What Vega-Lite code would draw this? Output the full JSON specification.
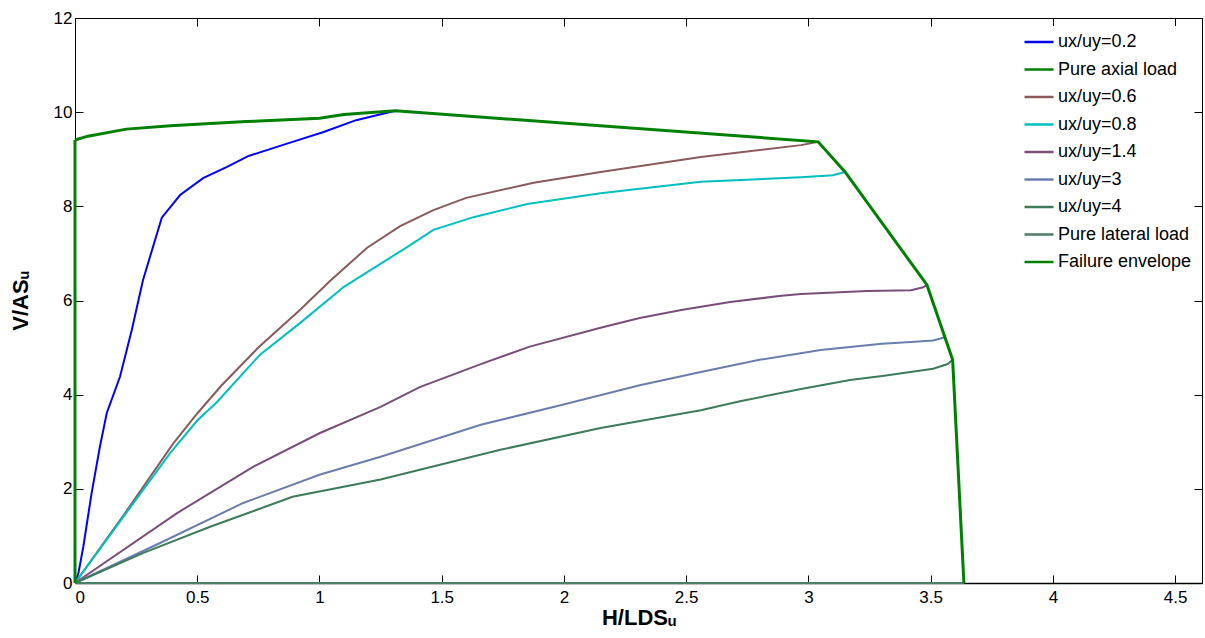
{
  "$schema": "https://vega.github.io/schema/vega-lite/v6.json",
  "width": 1127,
  "height": 565,
  "autosize": {"type": "none"},
  "padding": {"left": 75, "top": 18, "right": 3, "bottom": 55},
  "background": "white",
  "config": {
    "font": "Liberation Sans",
    "view": {"stroke": "black", "strokeWidth": 1},
    "axis": {"grid": false, "domainColor": "black", "tickColor": "black", "labelColor": "black", "titleColor": "black", "labelFont": "Liberation Sans", "titleFont": "Liberation Sans"}
  },
  "datasets": {
    "curves": [
      {"s": "ux/uy=0.2", "i": 0, "x": 0, "y": 0},
      {"s": "ux/uy=0.2", "i": 1, "x": 0.014, "y": 0.21},
      {"s": "ux/uy=0.2", "i": 2, "x": 0.034, "y": 0.77},
      {"s": "ux/uy=0.2", "i": 3, "x": 0.068, "y": 1.91},
      {"s": "ux/uy=0.2", "i": 4, "x": 0.102, "y": 2.9},
      {"s": "ux/uy=0.2", "i": 5, "x": 0.13, "y": 3.61},
      {"s": "ux/uy=0.2", "i": 6, "x": 0.184, "y": 4.38},
      {"s": "ux/uy=0.2", "i": 7, "x": 0.232, "y": 5.37},
      {"s": "ux/uy=0.2", "i": 8, "x": 0.278, "y": 6.43},
      {"s": "ux/uy=0.2", "i": 9, "x": 0.355, "y": 7.76},
      {"s": "ux/uy=0.2", "i": 10, "x": 0.43, "y": 8.24},
      {"s": "ux/uy=0.2", "i": 11, "x": 0.524, "y": 8.6},
      {"s": "ux/uy=0.2", "i": 12, "x": 0.622, "y": 8.84},
      {"s": "ux/uy=0.2", "i": 13, "x": 0.71, "y": 9.07},
      {"s": "ux/uy=0.2", "i": 14, "x": 0.89, "y": 9.37},
      {"s": "ux/uy=0.2", "i": 15, "x": 1.017, "y": 9.58},
      {"s": "ux/uy=0.2", "i": 16, "x": 1.15, "y": 9.83},
      {"s": "ux/uy=0.2", "i": 17, "x": 1.31, "y": 10.03},

      {"s": "ux/uy=0.6", "i": 0, "x": 0, "y": 0},
      {"s": "ux/uy=0.6", "i": 1, "x": 0.2, "y": 1.45},
      {"s": "ux/uy=0.6", "i": 2, "x": 0.4, "y": 2.95},
      {"s": "ux/uy=0.6", "i": 3, "x": 0.5, "y": 3.6},
      {"s": "ux/uy=0.6", "i": 4, "x": 0.6, "y": 4.2},
      {"s": "ux/uy=0.6", "i": 5, "x": 0.75, "y": 5.0},
      {"s": "ux/uy=0.6", "i": 6, "x": 0.92, "y": 5.8},
      {"s": "ux/uy=0.6", "i": 7, "x": 1.044, "y": 6.42},
      {"s": "ux/uy=0.6", "i": 8, "x": 1.195, "y": 7.12},
      {"s": "ux/uy=0.6", "i": 9, "x": 1.33, "y": 7.58},
      {"s": "ux/uy=0.6", "i": 10, "x": 1.466, "y": 7.92},
      {"s": "ux/uy=0.6", "i": 11, "x": 1.6, "y": 8.18},
      {"s": "ux/uy=0.6", "i": 12, "x": 1.876, "y": 8.5},
      {"s": "ux/uy=0.6", "i": 13, "x": 2.15, "y": 8.73},
      {"s": "ux/uy=0.6", "i": 14, "x": 2.56, "y": 9.05},
      {"s": "ux/uy=0.6", "i": 15, "x": 2.97, "y": 9.3},
      {"s": "ux/uy=0.6", "i": 16, "x": 3.04, "y": 9.37},

      {"s": "ux/uy=0.8", "i": 0, "x": 0, "y": 0},
      {"s": "ux/uy=0.8", "i": 1, "x": 0.2, "y": 1.42},
      {"s": "ux/uy=0.8", "i": 2, "x": 0.389, "y": 2.76},
      {"s": "ux/uy=0.8", "i": 3, "x": 0.5, "y": 3.45},
      {"s": "ux/uy=0.8", "i": 4, "x": 0.58, "y": 3.84},
      {"s": "ux/uy=0.8", "i": 5, "x": 0.757, "y": 4.85},
      {"s": "ux/uy=0.8", "i": 6, "x": 0.92, "y": 5.52},
      {"s": "ux/uy=0.8", "i": 7, "x": 1.1, "y": 6.29},
      {"s": "ux/uy=0.8", "i": 8, "x": 1.36, "y": 7.14},
      {"s": "ux/uy=0.8", "i": 9, "x": 1.466, "y": 7.5},
      {"s": "ux/uy=0.8", "i": 10, "x": 1.63, "y": 7.77},
      {"s": "ux/uy=0.8", "i": 11, "x": 1.85, "y": 8.05},
      {"s": "ux/uy=0.8", "i": 12, "x": 2.15, "y": 8.28},
      {"s": "ux/uy=0.8", "i": 13, "x": 2.56, "y": 8.52},
      {"s": "ux/uy=0.8", "i": 14, "x": 2.97, "y": 8.62},
      {"s": "ux/uy=0.8", "i": 15, "x": 3.1, "y": 8.66},
      {"s": "ux/uy=0.8", "i": 16, "x": 3.15, "y": 8.73},

      {"s": "ux/uy=1.4", "i": 0, "x": 0, "y": 0},
      {"s": "ux/uy=1.4", "i": 1, "x": 0.416, "y": 1.48},
      {"s": "ux/uy=1.4", "i": 2, "x": 0.73, "y": 2.47},
      {"s": "ux/uy=1.4", "i": 3, "x": 1.0, "y": 3.18},
      {"s": "ux/uy=1.4", "i": 4, "x": 1.25, "y": 3.74},
      {"s": "ux/uy=1.4", "i": 5, "x": 1.41, "y": 4.16},
      {"s": "ux/uy=1.4", "i": 6, "x": 1.66, "y": 4.65},
      {"s": "ux/uy=1.4", "i": 7, "x": 1.86, "y": 5.02},
      {"s": "ux/uy=1.4", "i": 8, "x": 2.15, "y": 5.42},
      {"s": "ux/uy=1.4", "i": 9, "x": 2.31, "y": 5.63},
      {"s": "ux/uy=1.4", "i": 10, "x": 2.48, "y": 5.8},
      {"s": "ux/uy=1.4", "i": 11, "x": 2.68, "y": 5.97},
      {"s": "ux/uy=1.4", "i": 12, "x": 2.89, "y": 6.1},
      {"s": "ux/uy=1.4", "i": 13, "x": 2.97, "y": 6.14},
      {"s": "ux/uy=1.4", "i": 14, "x": 3.24, "y": 6.2},
      {"s": "ux/uy=1.4", "i": 15, "x": 3.42, "y": 6.22},
      {"s": "ux/uy=1.4", "i": 16, "x": 3.47, "y": 6.28},
      {"s": "ux/uy=1.4", "i": 17, "x": 3.485, "y": 6.33},

      {"s": "ux/uy=3", "i": 0, "x": 0, "y": 0},
      {"s": "ux/uy=3", "i": 1, "x": 0.348, "y": 0.85},
      {"s": "ux/uy=3", "i": 2, "x": 0.688, "y": 1.7},
      {"s": "ux/uy=3", "i": 3, "x": 1.0, "y": 2.3},
      {"s": "ux/uy=3", "i": 4, "x": 1.25, "y": 2.68},
      {"s": "ux/uy=3", "i": 5, "x": 1.66, "y": 3.36},
      {"s": "ux/uy=3", "i": 6, "x": 1.99, "y": 3.78},
      {"s": "ux/uy=3", "i": 7, "x": 2.31, "y": 4.2},
      {"s": "ux/uy=3", "i": 8, "x": 2.56, "y": 4.48},
      {"s": "ux/uy=3", "i": 9, "x": 2.8, "y": 4.74},
      {"s": "ux/uy=3", "i": 10, "x": 3.05, "y": 4.95},
      {"s": "ux/uy=3", "i": 11, "x": 3.3, "y": 5.08},
      {"s": "ux/uy=3", "i": 12, "x": 3.42, "y": 5.12},
      {"s": "ux/uy=3", "i": 13, "x": 3.51, "y": 5.15},
      {"s": "ux/uy=3", "i": 14, "x": 3.56, "y": 5.22},

      {"s": "ux/uy=4", "i": 0, "x": 0, "y": 0},
      {"s": "ux/uy=4", "i": 1, "x": 0.28, "y": 0.64},
      {"s": "ux/uy=4", "i": 2, "x": 0.55, "y": 1.19},
      {"s": "ux/uy=4", "i": 3, "x": 0.89, "y": 1.83},
      {"s": "ux/uy=4", "i": 4, "x": 1.25, "y": 2.2},
      {"s": "ux/uy=4", "i": 5, "x": 1.74, "y": 2.83},
      {"s": "ux/uy=4", "i": 6, "x": 2.15, "y": 3.29},
      {"s": "ux/uy=4", "i": 7, "x": 2.56, "y": 3.67},
      {"s": "ux/uy=4", "i": 8, "x": 2.72, "y": 3.86},
      {"s": "ux/uy=4", "i": 9, "x": 2.97, "y": 4.12},
      {"s": "ux/uy=4", "i": 10, "x": 3.17, "y": 4.31},
      {"s": "ux/uy=4", "i": 11, "x": 3.31, "y": 4.4},
      {"s": "ux/uy=4", "i": 12, "x": 3.51, "y": 4.55},
      {"s": "ux/uy=4", "i": 13, "x": 3.57, "y": 4.65},
      {"s": "ux/uy=4", "i": 14, "x": 3.59, "y": 4.74},

      {"s": "Pure lateral load", "i": 0, "x": 0, "y": 0},
      {"s": "Pure lateral load", "i": 1, "x": 3.636, "y": 0}
    ],
    "envelope": [
      {"s": "Pure axial load", "i": 0, "x": 0, "y": 0},
      {"s": "Pure axial load", "i": 1, "x": 0, "y": 9.41},

      {"s": "Failure envelope", "i": 0, "x": 0, "y": 9.41},
      {"s": "Failure envelope", "i": 1, "x": 0.053, "y": 9.49},
      {"s": "Failure envelope", "i": 2, "x": 0.21, "y": 9.64},
      {"s": "Failure envelope", "i": 3, "x": 0.39, "y": 9.71},
      {"s": "Failure envelope", "i": 4, "x": 0.7, "y": 9.8},
      {"s": "Failure envelope", "i": 5, "x": 1.0, "y": 9.87},
      {"s": "Failure envelope", "i": 6, "x": 1.1, "y": 9.95},
      {"s": "Failure envelope", "i": 7, "x": 1.31, "y": 10.03},
      {"s": "Failure envelope", "i": 8, "x": 3.04, "y": 9.37},
      {"s": "Failure envelope", "i": 9, "x": 3.15, "y": 8.73},
      {"s": "Failure envelope", "i": 10, "x": 3.485, "y": 6.33},
      {"s": "Failure envelope", "i": 11, "x": 3.59, "y": 4.74},
      {"s": "Failure envelope", "i": 12, "x": 3.636, "y": 0}
    ]
  },
  "layer": [
    {
      "data": {"name": "curves"},
      "mark": {"type": "line", "strokeWidth": 2, "clip": false},
      "encoding": {
        "x": {
          "field": "x", "type": "quantitative",
          "scale": {"domain": [0, 4.61], "nice": false, "zero": false},
          "axis": {"orient": "bottom", "values": [0, 0.5, 1, 1.5, 2, 2.5, 3, 3.5, 4, 4.5], "format": "~g", "tickSize": -8, "labelPadding": 14, "labelFontSize": 17, "title": "H/LDSᵤ", "titleFontSize": 22, "titleFontWeight": "bold", "titlePadding": 2, "domainWidth": 1.5}
        },
        "y": {
          "field": "y", "type": "quantitative",
          "scale": {"domain": [0, 12], "nice": false, "zero": false},
          "axis": {"orient": "left", "values": [0, 2, 4, 6, 8, 10, 12], "tickSize": -8, "labelPadding": 11, "labelFontSize": 17, "title": "V/ASᵤ", "titleFontSize": 22, "titleFontWeight": "bold", "titlePadding": 21}
        },
        "color": {
          "field": "s", "type": "nominal",
          "scale": {
            "domain": ["ux/uy=0.2", "Pure axial load", "ux/uy=0.6", "ux/uy=0.8", "ux/uy=1.4", "ux/uy=3", "ux/uy=4", "Pure lateral load", "Failure envelope"],
            "range": ["#0000FF", "#008000", "#8B5B5B", "#00BFBF", "#7A4E7A", "#6A7EAE", "#3E7B5B", "#4A7E65", "#008000"]
          },
          "legend": {
            "title": null, "orient": "none", "legendX": 948, "legendY": 8,
            "symbolType": "stroke", "symbolSize": 841, "symbolStrokeWidth": 2.5,
            "labelFontSize": 18, "labelOffset": 3, "rowPadding": 2.5, "labelColor": "black",
            "fillColor": "white", "padding": 0
          }
        },
        "order": {"field": "i", "type": "quantitative"}
      }
    },
    {
      "data": {"name": "envelope"},
      "mark": {"type": "line", "strokeWidth": 3, "clip": false},
      "encoding": {
        "x": {"field": "x", "type": "quantitative", "axis": {"orient": "top", "values": [0, 0.5, 1, 1.5, 2, 2.5, 3, 3.5, 4, 4.5], "labels": false, "title": null, "tickSize": -8, "domain": false}},
        "y": {"field": "y", "type": "quantitative", "axis": {"orient": "right", "values": [0, 2, 4, 6, 8, 10, 12], "labels": false, "title": null, "tickSize": -8, "domain": false}},
        "color": {"field": "s", "type": "nominal"},
        "order": {"field": "i", "type": "quantitative"}
      }
    }
  ],
  "resolve": {"axis": {"x": "independent", "y": "independent"}}
}
